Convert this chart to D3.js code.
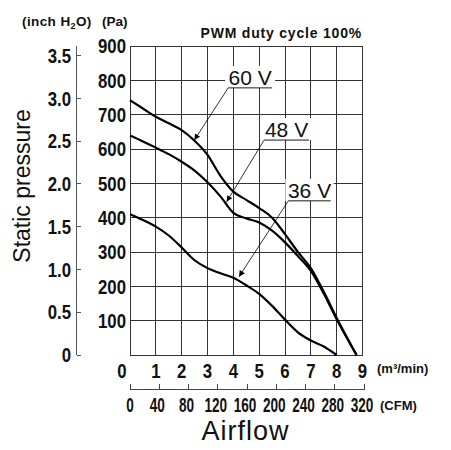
<!doctype html>
<html>
  <head>
    <script src="https://d3js.org/d3.v7.min.js"></script>
    <style>
      body { margin: 0; background: #fff; }
      text { font-family: "Liberation Sans", Arial, sans-serif; fill: #111; }
      .num { font-weight: bold; }
    </style>
  </head>
  <body>
    <div id="graphic"></div>
    <script>

// Data (airflow in m3/min, static pressure in Pa)
var airflow60  = [0, 0.5, 1, 1.5, 2, 2.5, 3, 3.5, 4, 4.5, 5, 5.5, 6, 6.5, 7, 7.5, 8, 8.77];
var pressure60 = [742, 718, 694, 675, 655, 624, 583, 522, 476, 452, 428, 400, 352, 300, 253, 184, 108, 0];

var airflow48  = [0, 0.5, 1, 1.5, 2, 2.5, 3, 3.5, 4, 4.5, 5, 5.5, 6, 6.5, 7, 7.5, 8, 8.77];
var pressure48 = [639, 622, 604, 585, 563, 537, 503, 462, 414, 398, 386, 362, 328, 288, 245, 179, 104, 0];

var airflow36  = [0, 0.5, 1, 1.5, 2, 2.5, 3, 3.5, 4, 4.5, 5, 5.5, 6, 6.5, 7, 7.5, 8];
var pressure36 = [410, 393, 374, 348, 313, 276, 253, 238, 225, 203, 178, 143, 103, 66, 42, 25, 0];

var voltages = ["60 V", "48 V", "36 V"];
// label anchor (airflow, pressure) of the underline and arrow tip
var labelX   = [4.65, 6.06, 6.95];
var labelP   = [778, 626, 449];
var labelHalf = [0.85, 0.87, 0.82];
var tipX     = [2.49, 3.74, 4.22];
var tipP     = [626, 446, 228];

var m3Ticks   = [0, 1, 2, 3, 4, 5, 6, 7, 8, 9];
var cfmTicks  = [0, 40, 80, 120, 160, 200, 240, 280, 320];
var paTicks   = [100, 200, 300, 400, 500, 600, 700, 800, 900];
var inchTicks = [0, 0.5, 1.0, 1.5, 2.0, 2.5, 3.0, 3.5];

var CFM_TO_M3 = 0.0283168;
var INCH_TO_PA = 249.089;

var width = 451, height = 450;

var svg = d3.select("#graphic").append("svg")
  .attr("width", width)
  .attr("height", height);

var x = d3.scaleLinear().domain([0, 9]).range([130, 362.5]);
var y = d3.scaleLinear().domain([0, 900]).range([355, 46]);
var xCfm = d3.scaleLinear().domain([0, 320]).range([x(0), x(320 * CFM_TO_M3)]);
var yInch = d3.scaleLinear().domain([0, 3.5]).range([y(0), y(3.5 * INCH_TO_PA)]);

// condensed numbers: squeeze the glyphs horizontally
function place(px, py, sx) {
  return "translate(" + px + "," + py + ") scale(" + sx + ",1)";
}

// grid
var grid = svg.append("g").attr("shape-rendering", "crispEdges");
grid.selectAll("line.v").data(m3Ticks).enter().append("line")
  .attr("x1", d => x(d)).attr("x2", d => x(d))
  .attr("y1", y(0)).attr("y2", y(900))
  .style("stroke", "#333").style("stroke-width", 1);
grid.selectAll("line.h").data([0].concat(paTicks)).enter().append("line")
  .attr("x1", x(0)).attr("x2", x(9))
  .attr("y1", d => y(d)).attr("y2", d => y(d))
  .style("stroke", "#333").style("stroke-width", 1);

// curves
var line = d3.line()
  .x(d => x(d[0]))
  .y(d => y(d[1]))
  .curve(d3.curveMonotoneX);

var series = [d3.zip(airflow60, pressure60), d3.zip(airflow48, pressure48), d3.zip(airflow36, pressure36)];
svg.selectAll("path.curve").data(series).enter().append("path")
  .attr("d", line)
  .style("fill", "none")
  .style("stroke", "#000")
  .style("stroke-width", 2.2)
  .style("stroke-linejoin", "round");

// arrow marker
svg.append("defs").append("marker")
  .attr("id", "arrow")
  .attr("viewBox", "0 0 10 10")
  .attr("refX", 10).attr("refY", 5)
  .attr("markerWidth", 9).attr("markerHeight", 6)
  .attr("markerUnits", "userSpaceOnUse")
  .attr("orient", "auto")
  .append("path")
  .attr("d", "M0,0 L10,5 L0,10 z")
  .style("fill", "#000");

// voltage labels with white box, underline and leader
voltages.forEach(function (v, i) {
  var cx = x(labelX[i]), uy = y(labelP[i]);
  var x0 = x(labelX[i] - labelHalf[i]), x1 = x(labelX[i] + labelHalf[i]);
  svg.append("rect")
    .attr("x", x0 - 3).attr("y", uy - 22)
    .attr("width", x1 - x0 + 6).attr("height", 22)
    .style("fill", "#fff");
  svg.append("text")
    .attr("x", cx).attr("y", uy - 3)
    .attr("text-anchor", "middle")
    .style("font-size", "21px")
    .text(v);
  svg.append("line")
    .attr("x1", x0).attr("x2", x1)
    .attr("y1", uy).attr("y2", uy)
    .style("stroke", "#000").style("stroke-width", 0.9);
  svg.append("line")
    .attr("x1", x0).attr("y1", uy)
    .attr("x2", x(tipX[i])).attr("y2", y(tipP[i]))
    .attr("marker-end", "url(#arrow)")
    .style("stroke", "#000").style("stroke-width", 0.8);
});

// Pa axis labels
svg.append("g").selectAll("text").data(paTicks).enter().append("text")
  .attr("class", "num")
  .attr("transform", d => place(126, y(d), 0.84))
  .attr("dy", "0.36em")
  .attr("text-anchor", "end")
  .style("font-size", "20px")
  .text(d => d);

// inch H2O axis
var inchAxis = svg.append("g").attr("shape-rendering", "crispEdges");
inchAxis.append("line")
  .attr("x1", 76.5).attr("x2", 76.5)
  .attr("y1", y(0)).attr("y2", yInch(3.5) - 10)
  .style("stroke", "#555").style("stroke-width", 1);
inchAxis.selectAll("line.t").data(inchTicks).enter().append("line")
  .attr("x1", 76.5).attr("x2", 81)
  .attr("y1", d => yInch(d)).attr("y2", d => yInch(d))
  .style("stroke", "#555").style("stroke-width", 1);
inchAxis.selectAll("text").data(inchTicks).enter().append("text")
  .attr("class", "num")
  .attr("transform", d => place(71, yInch(d), 0.84))
  .attr("dy", "0.36em")
  .attr("text-anchor", "end")
  .style("font-size", "20px")
  .text(d => d === 0 ? "0" : d.toFixed(1));

// m3/min labels
svg.append("g").selectAll("text").data(m3Ticks).enter().append("text")
  .attr("class", "num")
  .attr("transform", d => place(d === 0 ? 122 : x(d), 378, 0.84))
  .attr("text-anchor", "middle")
  .style("font-size", "20px")
  .text(d => d);

svg.append("text")
  .attr("x", 377).attr("y", 373)
  .style("font-size", "13px").style("font-weight", "bold")
  .text("(m³/min)");

// CFM axis
var cfmAxis = svg.append("g").attr("shape-rendering", "crispEdges");
cfmAxis.append("line")
  .attr("x1", xCfm(0)).attr("x2", xCfm(320))
  .attr("y1", 389.5).attr("y2", 389.5)
  .style("stroke", "#444").style("stroke-width", 1);
cfmAxis.selectAll("line.t").data(cfmTicks).enter().append("line")
  .attr("x1", d => xCfm(d)).attr("x2", d => xCfm(d))
  .attr("y1", 389.5).attr("y2", 384)
  .style("stroke", "#444").style("stroke-width", 1);
cfmAxis.selectAll("text").data(cfmTicks).enter().append("text")
  .attr("class", "num")
  .attr("transform", d => place(xCfm(d) - (d === 0 ? 0 : 2), 411.5, 0.68))
  .attr("text-anchor", "middle")
  .style("font-size", "20px")
  .text(d => d);

svg.append("text")
  .attr("x", 380).attr("y", 410)
  .style("font-size", "13px").style("font-weight", "bold")
  .text("(CFM)");

// titles
svg.append("text")
  .attr("x", 245.5).attr("y", 440)
  .attr("text-anchor", "middle")
  .style("font-size", "27px")
  .style("letter-spacing", "1px")
  .text("Airflow");

svg.append("text")
  .attr("transform", "translate(30,186)rotate(-90)")
  .attr("text-anchor", "middle")
  .style("font-size", "23px")
  .text("Static pressure");

var unitHead = svg.append("text")
  .attr("x", 22).attr("y", 26)
  .style("font-size", "13.5px").style("font-weight", "bold")
  .style("letter-spacing", "0.4px");
unitHead.append("tspan").text("(inch H");
unitHead.append("tspan").attr("dy", 3).style("font-size", "9px").text("2");
unitHead.append("tspan").attr("dy", -3).text("O)");

svg.append("text")
  .attr("x", 102).attr("y", 26)
  .style("font-size", "13.5px").style("font-weight", "bold")
  .text("(Pa)");

svg.append("text")
  .attr("x", 362).attr("y", 38)
  .attr("text-anchor", "end")
  .style("font-size", "14px").style("font-weight", "bold")
  .style("letter-spacing", "0.8px")
  .text("PWM duty cycle 100%");

    </script>
  </body>
</html>
